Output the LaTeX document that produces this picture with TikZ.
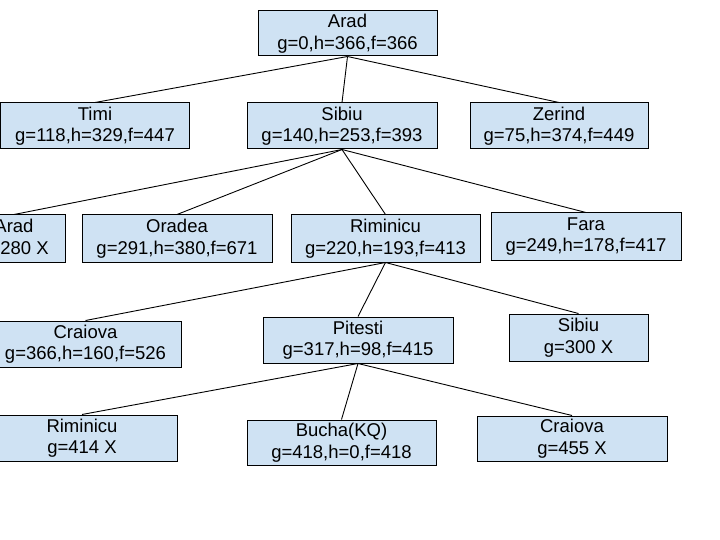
\documentclass[tikz,border=0pt]{standalone}
\usepackage{fontspec}
\setmainfont{Liberation Sans}
\usepackage{tikz}
\usetikzlibrary{shapes,arrows}
\usepackage{xcolor}
\definecolor{boxblue}{HTML}{CFE2F3}
\tikzset{
	state/.style={draw=black, fill=boxblue, line width=1pt, align=center, inner sep=0pt, minimum width=190pt, minimum height=46pt, font=\fontsize{18.5}{21.5}\selectfont},
	edge/.style={draw=black, line width=0.9pt}
}

\begin{document}
\begin{tikzpicture}[x=1pt,y=-1pt]
			\useasboundingbox (0,0) rectangle (720,540);
			\clip (0,0) rectangle (720,540);
			% level 0
			\node[state, minimum width=179pt, minimum height=45pt] (arad) at (347.5,33.5) {Arad\\g=0,h=366,f=366};
			% level 1
			\node[state, minimum width=189pt] (timi) at (95,126) {Timi\\g=118,h=329,f=447};
			\node[state] (sibiu) at (342,126) {Sibiu\\g=140,h=253,f=393};
			\node[state, minimum width=178pt] (zerind) at (559,126) {Zerind\\g=75,h=374,f=449};
			% level 2
			\node[state, minimum width=102pt, minimum height=47pt] (aradb) at (14,238.5) {Arad\\g=280 X};
			\node[state, minimum height=47pt] (oradea) at (177,238.5) {Oradea\\g=291,h=380,f=671};
			\node[state, minimum width=189pt, minimum height=47pt] (rimnicu) at (385.5,238.5) {Riminicu\\g=220,h=193,f=413};
			\node[state, minimum height=47pt] (fara) at (586,236.5) {Fara\\g=249,h=178,f=417};
			% level 3
			\node[state, minimum width=191pt] (craiova) at (85.5,344) {Craiova\\g=366,h=160,f=526};
			\node[state] (pitesti) at (358,340) {Pitesti\\g=317,h=98,f=415};
			\node[state, minimum width=139pt, minimum height=47pt] (sibiub) at (578.5,337.5) {Sibiu\\g=300 X};
			% level 4
			\node[state] (rimnicub) at (82,438) {Riminicu\\g=414 X};
			\node[state, minimum width=189pt, minimum height=45pt] (bucha) at (341.5,442.5) {Bucha(KQ)\\g=418,h=0,f=418};
			\node[state, minimum height=45pt] (craiovab) at (572,438.5) {Craiova\\g=455 X};
			% edges
			\draw[edge] (arad.south) -- (timi.north);
			\draw[edge] (arad.south) -- (sibiu.north);
			\draw[edge] (arad.south) -- (zerind.north);
			\draw[edge] (sibiu.south) -- (aradb.north);
			\draw[edge] (sibiu.south) -- (oradea.north);
			\draw[edge] (sibiu.south) -- (rimnicu.north);
			\draw[edge] (sibiu.south) -- (fara.north);
			\draw[edge] (rimnicu.south) -- (craiova.north);
			\draw[edge] (rimnicu.south) -- (pitesti.north);
			\draw[edge] (rimnicu.south) -- (sibiub.north);
			\draw[edge] (pitesti.south) -- (rimnicub.north);
			\draw[edge] (pitesti.south) -- (bucha.north);
			\draw[edge] (pitesti.south) -- (craiovab.north);
\end{tikzpicture}
\end{document}
